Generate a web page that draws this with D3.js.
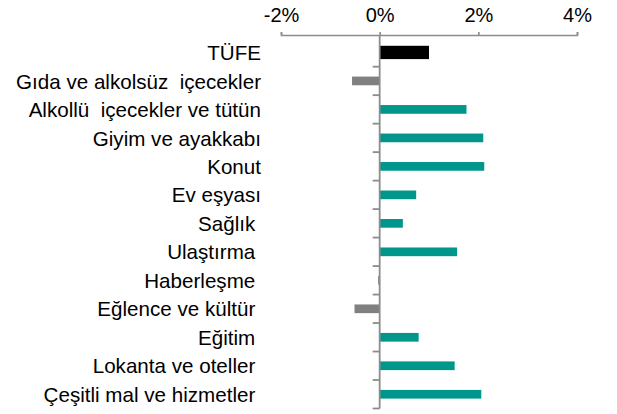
<!DOCTYPE html>
<html>
<head>
<meta charset="utf-8">
<script src="https://cdn.jsdelivr.net/npm/d3@7"></script>
<style>
  body { margin: 0; background: #fff; }
  text { font-family: "Liberation Sans", Arial, sans-serif; fill: #000; }
</style>
</head>
<body>
<div id="chart"></div>
<script>
const width = 617,
  height = 414;

// category labels, top to bottom
const categories = [
  "TÜFE",
  "Gıda ve alkolsüz  içecekler",
  "Alkollü  içecekler ve tütün",
  "Giyim ve ayakkabı",
  "Konut",
  "Ev eşyası",
  "Sağlık ",
  "Ulaştırma ",
  "Haberleşme ",
  "Eğlence ve kültür ",
  "Eğitim ",
  "Lokanta ve oteller ",
  "Çeşitli mal ve hizmetler "
];

// monthly change, %
const values = [1.0, -0.56, 1.76, 2.10, 2.12, 0.74, 0.47, 1.57, -0.03, -0.51, 0.79, 1.52, 2.06];

const xTicks = [-2, 0, 2, 4];

const svg = d3.select("#chart")
  .append("svg")
  .attr("width", width)
  .attr("height", height);

const x = d3.scaleLinear()
  .domain([-2, 4])
  .range([281, 577]);

const y = d3.scaleBand()
  .domain(categories)
  .range([38.2, 408.5]);

// top axis
const xAxis = svg.append("g")
  .attr("transform", "translate(0,35)")
  .call(d3.axisTop(x).tickValues(xTicks).tickSize(3).tickPadding(10).tickFormat(d => `${d}%`));

xAxis.select(".domain").attr("stroke", "#8c8c8c").attr("stroke-width", 1.6);
xAxis.selectAll(".tick line").attr("stroke", "#8c8c8c").attr("stroke-width", 1.6);
xAxis.selectAll(".tick text")
  .style("font-family", "'Liberation Sans', Arial, sans-serif")
  .style("font-size", "20px")
  .attr("fill", "#000");

// bars
const barColor = (d, i) => i === 0 ? "#000" : (d < 0 ? "#808080" : "#00968b");
const barHeight = i => i === 0 ? 13.3 : 8.7;

svg.append("g")
  .selectAll("rect")
  .data(values)
  .join("rect")
  .attr("x", d => x(Math.min(0, d)))
  .attr("width", d => Math.abs(x(d) - x(0)))
  .attr("y", (d, i) => y(categories[i]) + y.bandwidth() / 2 - barHeight(i) / 2)
  .attr("height", (d, i) => barHeight(i))
  .attr("fill", barColor);

// zero axis with category ticks on the left
const yAxis = svg.append("g");
yAxis.append("line")
  .attr("x1", x(0)).attr("x2", x(0))
  .attr("y1", 35).attr("y2", y.range()[1])
  .attr("stroke", "#8c8c8c")
  .attr("stroke-width", 1.8);

yAxis.selectAll("line.tick")
  .data(categories.slice(1).concat(["end"]))
  .join("line")
  .attr("class", "tick")
  .attr("x1", x(0) - 7).attr("x2", x(0))
  .attr("y1", (d, i) => y.range()[0] + (i + 1) * y.bandwidth())
  .attr("y2", (d, i) => y.range()[0] + (i + 1) * y.bandwidth())
  .attr("stroke", "#8c8c8c")
  .attr("stroke-width", 1.8);

// category labels
svg.append("g")
  .selectAll("text")
  .data(categories)
  .join("text")
  .attr("x", 261)
  .attr("y", d => y(d) + y.bandwidth() / 2)
  .attr("dy", "0.37em")
  .attr("text-anchor", "end")
  .attr("xml:space", "preserve")
  .style("white-space", "pre")
  .style("font-size", "20.6px")
  .text(d => d);
</script>
</body>
</html>
